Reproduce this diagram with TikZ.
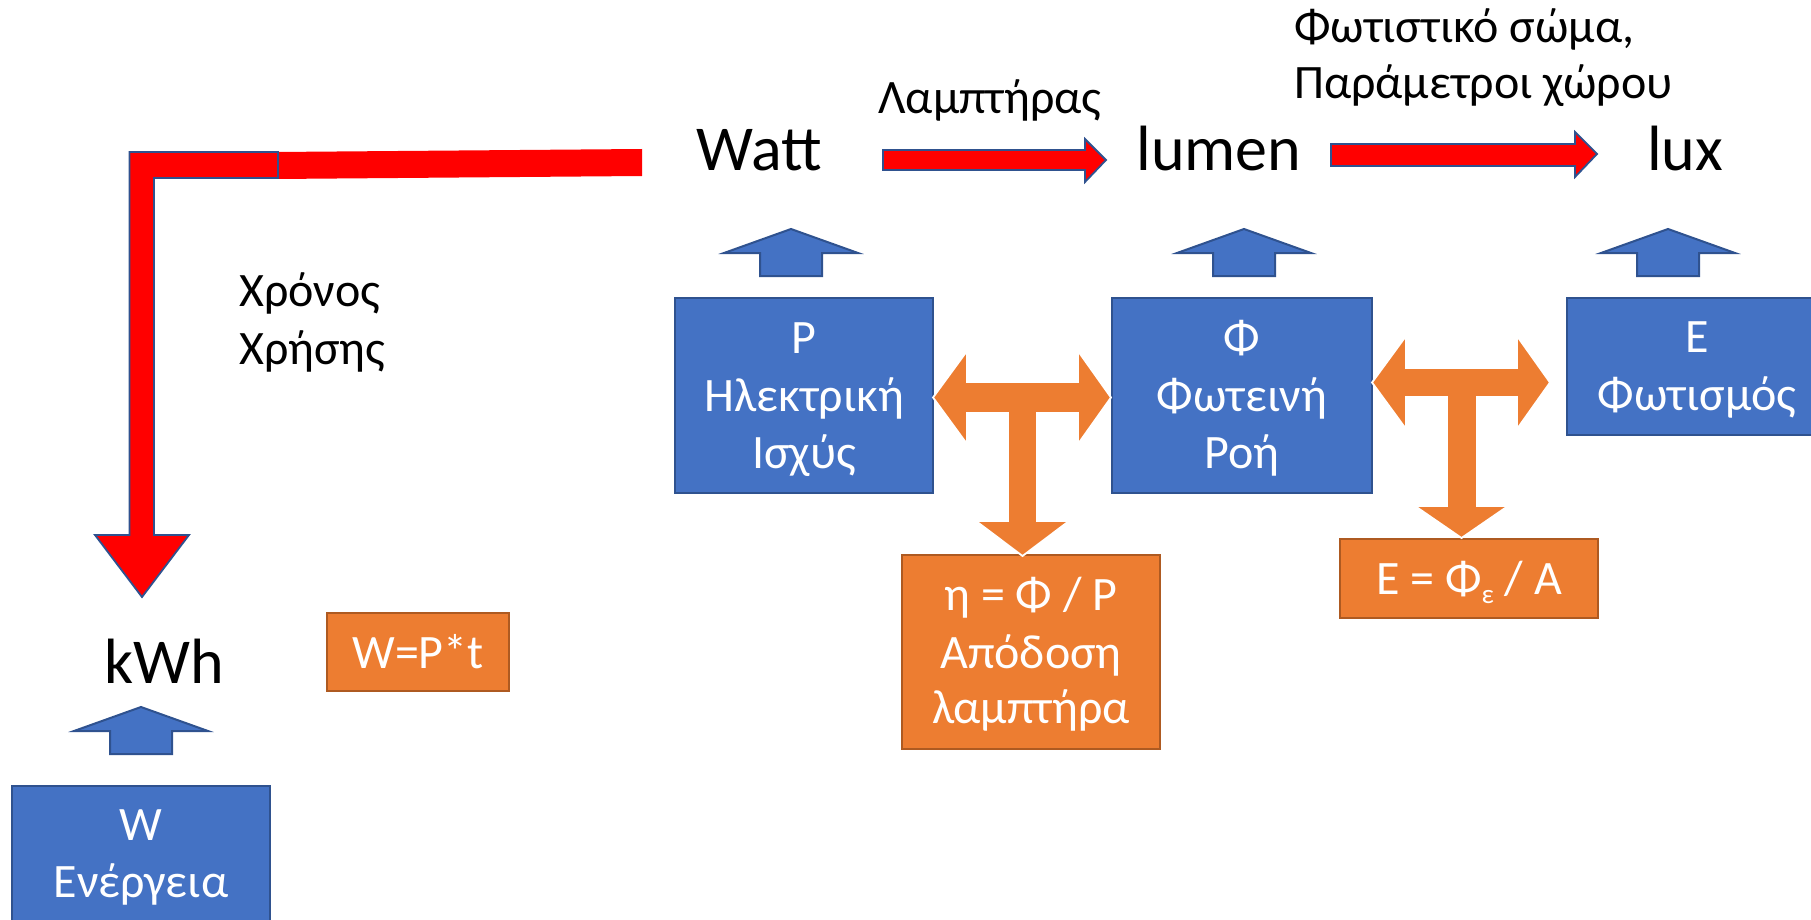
\documentclass[tikz,border=0pt]{standalone}
\usepackage{fontspec}
\setmainfont{Carlito}
\definecolor{bluefill}{HTML}{4472C4}
\definecolor{blueline}{HTML}{2F528F}
\definecolor{orangefill}{HTML}{ED7D31}
\definecolor{orangeline}{HTML}{AE5A21}
\definecolor{redfill}{HTML}{FF0000}
\tikzset{
  bigtxt/.style={font=\fontsize{64}{76}\selectfont, inner sep=0pt, anchor=base},
  lbltxt/.style={font=\fontsize{48}{58}\selectfont, inner sep=0pt, anchor=base},
  boxtxt/.style={font=\fontsize{48}{58}\selectfont, text=white, inner sep=0pt, anchor=base},
  bluebox/.style={rectangle, draw=blueline, fill=bluefill, line width=2.5pt, inner sep=0pt},
  orangebox/.style={rectangle, draw=orangeline, fill=orangefill, line width=2.5pt, inner sep=0pt},
  redarrow/.style={fill=redfill, draw=blueline, line width=1.8pt, line join=miter},
  tarrow/.style={fill=orangefill, draw=white, line width=1.8pt, line join=miter},
  uparr/.pic={
    \path[fill=bluefill, draw=blueline, line width=2pt, line join=miter]
      (0,0) -- (67,24) -- (31,24) -- (31,47) -- (-31,47) -- (-31,24) -- (-67,24) -- cycle;
  },
}
\begin{document}
\begin{tikzpicture}[x=1pt, y=-1pt]
\useasboundingbox (0,0) rectangle (1811,920);
\clip (0,0) rectangle (1811,920);

% unit labels along the top row
\node[bigtxt] (watt)  at (759,171)  {Watt};
\node[bigtxt] (lumen) at (1219,171) {lumen};
\node[bigtxt] (lux)   at (1685,171) {lux};
\node[bigtxt] (kwh)   at (164,683)  {kWh};

% captions over the conversions
\node[lbltxt] (lamp) at (990,114) {Λαμπτήρας};
\node[lbltxt, anchor=base west] (fix1) at (1294,43) {Φωτιστικό σώμα,};
\node[lbltxt, anchor=base west] (fix2) at (1294,99) {Παράμετροι χώρου};
\node[lbltxt, anchor=base west] (time1) at (239,306) {Χρόνος};
\node[lbltxt, anchor=base west] (time2) at (239,364) {Χρήσης};

% quantity boxes
\node[bluebox, minimum width=258pt, minimum height=195pt] (P)   at (804,395.5)  {};
\node[bluebox, minimum width=260pt, minimum height=195pt] (Phi) at (1242,395.5) {};
\node[bluebox, minimum width=260pt, minimum height=137pt] (E)   at (1697,366.5) {};
\node[bluebox, minimum width=258pt, minimum height=195pt] (W)   at (141,883.5)  {};

\node[boxtxt] (P1) at (804,353) {P};
\node[boxtxt] (P2) at (804,411) {Ηλεκτρική};
\node[boxtxt] (P3) at (804,468) {Ισχύς};
\node[boxtxt] (F1) at (1242,353) {Φ};
\node[boxtxt] (F2) at (1242,411) {Φωτεινή};
\node[boxtxt] (F3) at (1242,468) {Ροή};
\node[boxtxt] (E1) at (1697,352) {Ε};
\node[boxtxt] (E2) at (1697,410) {Φωτισμός};
\node[boxtxt] (W1) at (141,840) {W};
\node[boxtxt] (W2) at (141,897) {Ενέργεια};

% formula boxes
\node[orangebox, minimum width=182pt, minimum height=78pt]  (Wf)  at (418,652)    {};
\node[orangebox, minimum width=258pt, minimum height=194pt] (eta) at (1031,652)   {};
\node[orangebox, minimum width=258pt, minimum height=79pt]  (Ef)  at (1469,578.5) {};

\node[boxtxt] (Wf1) at (418,668) {W=P*t};
\node[boxtxt] (eta1) at (1031,610) {η = Φ / P};
\node[boxtxt] (eta2) at (1031,668) {Απόδοση};
\node[boxtxt] (eta3) at (1031,723) {λαμπτήρα};
\node[boxtxt] (Ef1) at (1469,594) {E = Φ{\fontsize{27}{27}\selectfont\raisebox{-9pt}{ε}} / A};

% blue arrows from each box up to its unit
\pic at (791,229)  {uparr};
\pic at (1244,229) {uparr};
\pic at (1668,229) {uparr};
\pic at (141,707)  {uparr};

% red conversion arrows
\path[redarrow] (883,150) -- (1085,150) -- (1085,139) -- (1106,160) -- (1085,182)
  -- (1085,170) -- (883,170) -- cycle;
\path[redarrow] (1331,144) -- (1575,144) -- (1575,132) -- (1597,154) -- (1575,177)
  -- (1575,166) -- (1331,166) -- cycle;

% bent arrow from Watt down to kWh
\fill[redfill] (276,152) -- (642,149) -- (642,176) -- (276,179) -- cycle;
\path[redarrow] (278,152) -- (129.5,152) -- (129.5,535) -- (95,535) -- (142,597)
  -- (189,535) -- (154,535) -- (154,178) -- (278,178) -- cycle;

% T-shaped orange arrows linking neighbouring boxes to their ratio
\path[tarrow] (933,397.5) -- (967,351) -- (967,382) -- (1078,382) -- (1078,351)
  -- (1111,397.5) -- (1078,444) -- (1078,413) -- (1037,413) -- (1037,521)
  -- (1069,521) -- (1022.5,556) -- (976,521) -- (1008,521) -- (1008,413)
  -- (967,413) -- (967,444) -- cycle;
\path[tarrow] (1372,382.5) -- (1406,336) -- (1406,368) -- (1517,368) -- (1517,336)
  -- (1550,382.5) -- (1517,429) -- (1517,397) -- (1477,397) -- (1477,506)
  -- (1508,506) -- (1461.5,538) -- (1415,506) -- (1447,506) -- (1447,397)
  -- (1406,397) -- (1406,429) -- cycle;
\end{tikzpicture}
\end{document}
